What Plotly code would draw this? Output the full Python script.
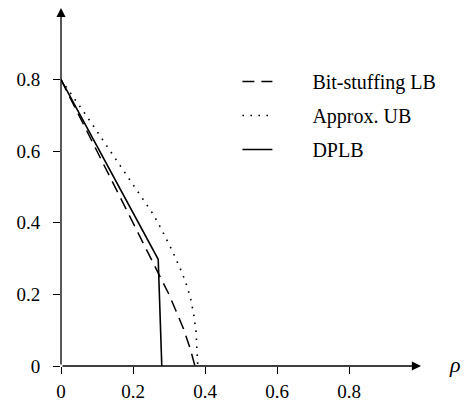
import plotly.graph_objects as go

# ---- data ----
bit_x = [0, 0.05, 0.10, 0.15, 0.20, 0.25, 0.30, 0.34, 0.36, 0.372]
bit_y = [0.80, 0.70, 0.60, 0.50, 0.40, 0.302, 0.20, 0.105, 0.045, 0.0]

ub_x = [0, 0.07, 0.137, 0.20, 0.256, 0.28, 0.31, 0.33, 0.346, 0.36, 0.369, 0.375, 0.378, 0.380]
ub_y = [0.80, 0.70, 0.60, 0.505, 0.424, 0.38, 0.32, 0.275, 0.235, 0.189, 0.142, 0.096, 0.049, 0.0]

dp_x = [0, 0.27, 0.28]
dp_y = [0.80, 0.298, 0.0]

names = ["Bit-stuffing LB", "Approx. UB", "DPLB"]

x_ticks = [0, 0.2, 0.4, 0.6, 0.8]
x_tick_text = ["0", "0.2", "0.4", "0.6", "0.8"]
y_ticks = [0, 0.2, 0.4, 0.6, 0.8]
y_tick_text = ["0", "0.2", "0.4", "0.6", "0.8"]

x_range = [0, 1.0]
y_range = [0, 1.0]

FONT = "Times New Roman, Liberation Serif, serif"
TICKFONT = "Times New Roman, Liberation Serif, serif"
PAD = "\u00a0" * 7  # gap between legend sample and label

fig = go.Figure()
fig.add_trace(go.Scatter(x=bit_x, y=bit_y, mode="lines", name=PAD + names[0], legendgroup="a",
                         line=dict(color="black", width=1.5, dash="12px,7px"), cliponaxis=False))
fig.add_trace(go.Scatter(x=ub_x, y=ub_y, mode="lines", name=PAD + names[1], legendgroup="b",
                         line=dict(color="black", width=1.6, dash="1.6px,6.4px"), cliponaxis=False))
fig.add_trace(go.Scatter(x=dp_x, y=dp_y, mode="lines", name=PAD + names[2], legendgroup="c",
                         line=dict(color="black", width=1.6), cliponaxis=False))

axis_common = dict(showgrid=False, zeroline=False, showline=False,
                   tickcolor="black", tickwidth=1.3,
                   tickfont=dict(family=TICKFONT, size=19, color="black"))

fig.update_layout(
    width=462, height=395,
    font=dict(family=FONT, size=19, color="black"),
    margin=dict(l=53, r=49, t=0, b=37, autoexpand=False),
    paper_bgcolor="white", plot_bgcolor="white",
    showlegend=True,
    legend=dict(x=0.49, y=0.849, xanchor="left", yanchor="top",
                bgcolor="rgba(0,0,0,0)", borderwidth=0,
                font=dict(family=FONT, size=20, color="black"),
                itemwidth=30, tracegroupgap=5, traceorder="grouped"),
    xaxis=dict(range=x_range, tickvals=x_ticks, ticktext=x_tick_text,
               ticks="outside", ticklen=7, ticklabelstandoff=1, **axis_common),
    yaxis=dict(range=y_range, tickvals=y_ticks, ticktext=y_tick_text,
               ticks="outside", ticklen=7, ticklabelstandoff=9, **axis_common),
    xaxis2=dict(range=x_range, tickvals=x_ticks[1:], overlaying="x", anchor="y",
                side="bottom", ticks="inside", ticklen=6, showticklabels=False,
                showgrid=False, zeroline=False, showline=False,
                tickcolor="black", tickwidth=1.3),
    yaxis2=dict(range=y_range, tickvals=y_ticks[1:], overlaying="y", anchor="x",
                side="left", ticks="inside", ticklen=6, showticklabels=False,
                showgrid=False, zeroline=False, showline=False,
                tickcolor="black", tickwidth=1.3),
)

# axis lines with arrow heads
fig.add_annotation(x=x_range[1], y=0, ax=0, ay=0, xref="x", yref="y", axref="x", ayref="y",
                   text="", showarrow=True, arrowhead=2, arrowsize=1.4, arrowwidth=1.3,
                   arrowcolor="black", standoff=0, startstandoff=0)
fig.add_annotation(x=0, y=y_range[1], ax=0, ay=0, xref="x", yref="y", axref="x", ayref="y",
                   text="", showarrow=True, arrowhead=2, arrowsize=1.4, arrowwidth=1.3,
                   arrowcolor="black", standoff=0, startstandoff=0)
# axis label
fig.add_annotation(x=x_range[1], y=0, xref="x", yref="y", text="<i>ρ</i>", showarrow=False,
                   xanchor="left", yanchor="middle", xshift=26, yshift=2,
                   font=dict(family=FONT, size=22, color="black"))

fig.write_html("out.html")
